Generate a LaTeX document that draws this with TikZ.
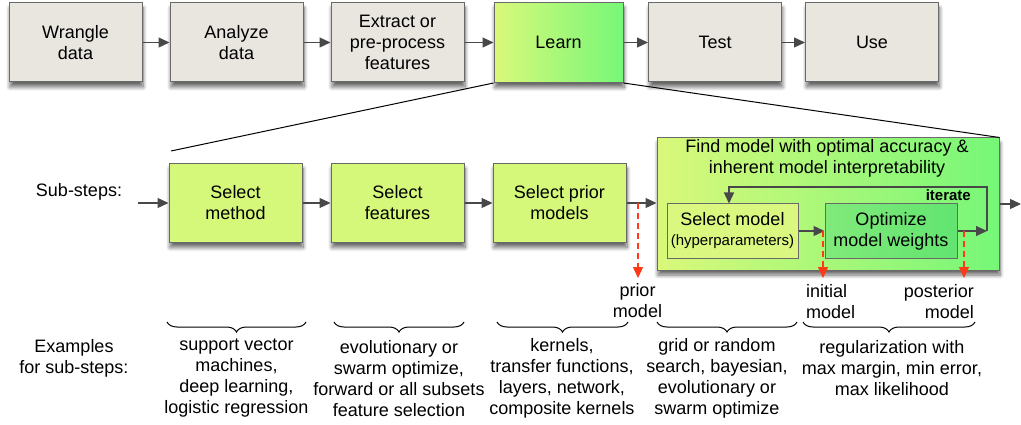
\documentclass[tikz,border=0pt]{standalone}
\usepackage{fontspec}
\setmainfont{Liberation Sans}
\usetikzlibrary{arrows.meta,shadows.blur,decorations.pathreplacing}
\definecolor{boxgray}{RGB}{233,230,223}
\definecolor{bordergray}{RGB}{105,105,105}
\definecolor{lightgreen}{RGB}{213,248,122}
\definecolor{lgA}{RGB}{218,248,122}
\definecolor{lgB}{RGB}{118,247,120}
\definecolor{optA}{RGB}{128,234,122}
\definecolor{optB}{RGB}{98,228,112}
\definecolor{selfill}{RGB}{218,248,128}
\definecolor{arrgray}{RGB}{72,72,72}
\definecolor{redc}{RGB}{255,58,22}
\begin{document}
\begin{tikzpicture}[x=1pt,y=-1pt,
  font=\fontsize{18}{21}\selectfont,
  box/.style={draw=bordergray, line width=1pt, minimum width=133pt, minimum height=79pt,
    align=center, inner sep=2pt,
    blur shadow={shadow xshift=1pt, shadow yshift=-5pt, shadow blur steps=8, shadow blur radius=4pt, shadow opacity=60}},
  graybox/.style={box, fill=boxgray},
  greenbox/.style={box, fill=lightgreen},
  innerbox/.style={draw=bordergray, line width=1pt, minimum height=54pt, align=center, inner sep=1pt},
  conn/.style={draw=arrgray, line width=1.3pt, -{Triangle[length=11pt,width=10pt]}},
  redarr/.style={draw=redc, line width=1.3pt, dash pattern=on 6pt off 4pt, -{Triangle[length=11pt,width=10pt]}},
  brc/.style={decorate, decoration={brace, mirror, amplitude=10pt}, line width=1pt},
  txt/.style={align=center, inner sep=0pt}
]
\useasboundingbox (0,0) rectangle (1021,425);

% top row
\node[graybox] (wr) at (75.5,42.5) {Wrangle\\data};
\node[graybox] (an) at (236.5,42.5) {Analyze\\data};
\node[graybox] (ex) at (397.5,42.5) {Extract or\\pre-process\\features};
\node[box, left color=lgA, right color=lgB, minimum width=129pt, minimum height=80pt] (le) at (558.5,42.5) {Learn};
\node[graybox] (te) at (715,42.5) {Test};
\node[graybox] (us) at (872,42.5) {Use};
\draw[conn] (wr) -- (an);
\draw[conn] (an) -- (ex);
\draw[conn] (ex) -- (le);
\draw[conn] (le) -- (te);
\draw[conn] (te) -- (us);

% second row
\node[txt] (ss) at (79,192) {Sub-steps:};
\coordinate (sin) at (138,203);
\node[greenbox] (sm) at (235.5,203) {Select\\method};
\node[greenbox] (sf) at (397.5,203) {Select\\features};
\node[greenbox] (sp) at (559.5,203) {Select prior\\models};
\node[box, left color=lgA, right color=lgB, minimum width=342pt, minimum height=132pt] (fm) at (828,204) {};
\node[txt] (ft) at (827,158.5) {Find model with optimal accuracy \&\\inherent model interpretability};
\node[innerbox, fill=selfill, minimum width=131pt] (sel) at (732.5,231)
  {Select model\\[-1pt]{\fontsize{15}{18}\selectfont (hyperparameters)}};
\node[innerbox, left color=optA, right color=optB, minimum width=132pt] (opt) at (891,231)
  {Optimize\\model weights};

\draw[conn] (sin) -- (sm);
\draw[conn] (sm) -- (sf);
\draw[conn] (sf) -- (sp);
\draw[conn] (sp.east) -- (sp.east -| fm.west);
\coordinate (out) at (1021,204);
\draw[conn] (fm.east) -- (out);
\draw[conn] (sel) -- (opt);
\coordinate (itr) at (987,231);
\coordinate (itt) at (987,187);
\coordinate (itl) at (729,187);
\draw[conn] (opt) -- (itr);
\draw[conn] (itr) -- (itt) -- (itl) -- (itl |- sel.north);
\node[txt, anchor=east, font=\bfseries\fontsize{15}{18}\selectfont] (itx) at (971,195) {iterate};

% Learn zoom lines
\coordinate (lz) at (171,151);
\draw[line width=1pt] (le.south west) -- (lz);
\draw[line width=1pt] (le.south east) -- (fm.north east);

% red dashed arrows
\coordinate (p1) at (638,203); \coordinate (p1e) at (638,278);
\coordinate (p2) at (823,231); \coordinate (p2e) at (823,278);
\coordinate (p3) at (964,231); \coordinate (p3e) at (964,278);
\draw[redarr] (p1) -- (p1e);
\draw[redarr] (p2) -- (p2e);
\draw[redarr] (p3) -- (p3e);

\node[txt] (pm) at (637.5,301) {prior\\model};
\node[txt, align=left, anchor=west] (im) at (806,302) {initial\\model};
\node[txt, align=right, anchor=east] (pom) at (974,302) {posterior\\model};

% braces
\draw[brc] (167,322) -- (306,322);
\draw[brc] (334,322) -- (464,322);
\draw[brc] (497,322) -- (628,322);
\draw[brc] (657,322) -- (797,322);
\draw[brc] (803,322) -- (975,322);

% examples
\node[txt] (exl) at (74,358) {Examples\\for sub-steps:};
\node[txt] (e1) at (236.5,378.5) {support vector\\machines,\\deep learning,\\logistic regression};
\node[txt] (e2) at (399,378.5) {evolutionary or\\swarm optimize,\\forward or all subsets\\feature selection};
\node[txt] (e3) at (562,378.5) {kernels,\\transfer functions,\\layers, network,\\composite kernels};
\node[txt] (e4) at (717,378.5) {grid or random\\search, bayesian,\\evolutionary or\\swarm optimize};
\node[txt] (e5) at (892,368) {regularization with\\max margin, min error,\\max likelihood};
\end{tikzpicture}
\end{document}
